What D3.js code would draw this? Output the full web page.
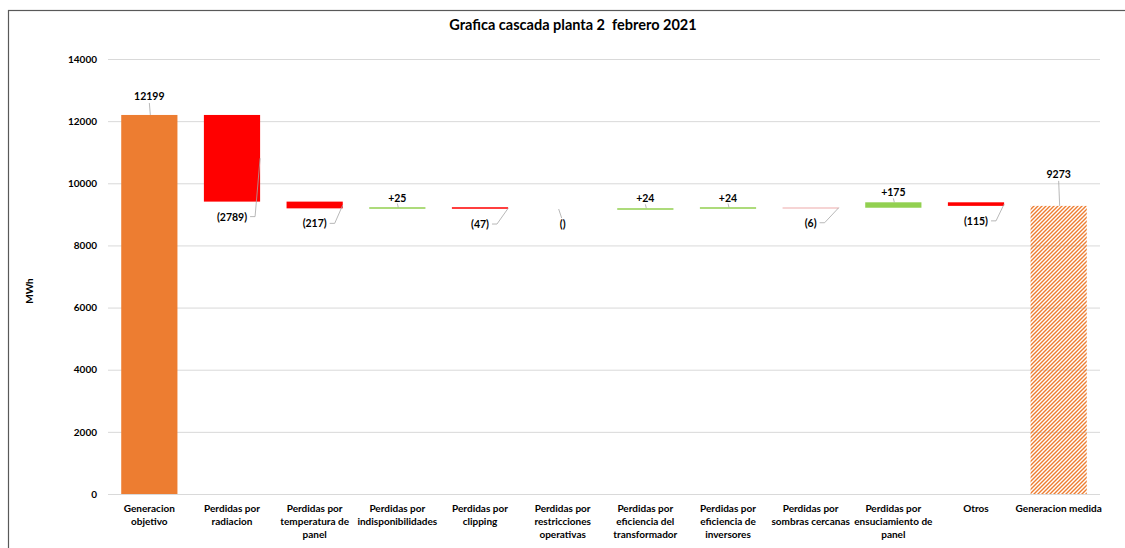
<!DOCTYPE html>
<html>
<head>
<meta charset="utf-8">
<script src="https://cdn.jsdelivr.net/npm/d3@7"></script>
<style>
  html, body { margin: 0; padding: 0; background: #fff; }
  svg { display: block; font-family: Lato, "Open Sans", sans-serif; }
  svg text { white-space: pre; }
</style>
</head>
<body>
<svg id="chart" width="1125" height="548"></svg>
<script>
// ---- data ----
const categories = [
  "Generacion\nobjetivo",
  "Perdidas por\nradiacion",
  "Perdidas por\ntemperatura de\npanel",
  "Perdidas por\nindisponibilidades",
  "Perdidas por\nclipping",
  "Perdidas por\nrestricciones\noperativas",
  "Perdidas por\neficiencia del\ntransformador",
  "Perdidas por\neficiencia de\ninversores",
  "Perdidas por\nsombras cercanas",
  "Perdidas por\nensuciamiento de\npanel",
  "Otros",
  "Generacion medida"
];
const values = [12199, -2789, -217, 25, -47, 0, 24, 24, -6, 175, -115, 9273];
const kinds = ["total", "delta", "delta", "delta", "delta", "delta", "delta", "delta", "delta", "delta", "delta", "measured"];
const yTicks = [0, 2000, 4000, 6000, 8000, 10000, 12000, 14000];
const title = "Grafica cascada planta 2  febrero 2021";
const yTitle = "MWh";

// ---- layout ----
const svg = d3.select("#chart");
const W = 1125, H = 548;
const plot = { left: 108, right: 1100, top: 59, bottom: 494 };

const x = d3.scaleBand().domain(d3.range(categories.length)).range([plot.left, plot.right]).paddingInner(0.32).paddingOuter(0.16);
const y = d3.scaleLinear().domain([0, 14000]).range([plot.bottom, plot.top]);

let running = 0;
const segs = values.map((v, i) => {
  let y0, y1;
  if (kinds[i] === "delta") { y0 = running; y1 = running + v; running = y1; }
  else { y0 = 0; y1 = v; running = v; }
  return { i, v, kind: kinds[i], lo: Math.min(y0, y1), hi: Math.max(y0, y1) };
});

const defs = svg.append("defs");
const pat = defs.append("pattern").attr("id", "hatch").attr("patternUnits", "userSpaceOnUse")
  .attr("width", 4).attr("height", 4);
pat.append("path").attr("d", "M-1,1 l2,-2 M0,4 l4,-4 M3,5 l2,-2")
  .attr("stroke", "#ED7D31").attr("stroke-width", 1.4);

// border
svg.append("rect").attr("x", 8.5).attr("y", 10.5).attr("width", W).attr("height", H)
  .attr("fill", "none").attr("stroke", "#595959").attr("stroke-width", 1.2);

// title
svg.append("text").attr("x", 573).attr("y", 30).attr("text-anchor", "middle")
  .attr("font-size", 14.5).attr("font-weight", "bold").attr("fill", "#000").text(title);

// grid + y axis
const yAxis = d3.axisLeft(y).tickValues(yTicks).tickSize(-(plot.right - plot.left)).tickPadding(11).tickFormat(d3.format("d"));
const gy = svg.append("g").attr("transform", `translate(${plot.left},0)`).call(yAxis);
gy.select(".domain").remove();
gy.selectAll(".tick line").attr("stroke", "#D9D9D9").attr("stroke-width", 1);
gy.selectAll(".tick text").attr("font-size", 10).attr("font-weight", "bold").attr("fill", "#000")
  .attr("font-family", "Lato, sans-serif");

// y title
svg.append("text").attr("transform", "translate(33,291) rotate(-90)").attr("text-anchor", "middle")
  .attr("font-size", 10).attr("font-weight", "bold").text(yTitle);

// bars
const colorOf = d => {
  if (d.kind === "total") return "#ED7D31";
  if (d.kind === "measured") return "url(#hatch)";
  const h = y(d.lo) - y(d.hi);
  if (d.v < 0 && h < 0.5) return "#F4C6C6";
  return d.v >= 0 ? "#92D050" : "#FF0000";
};
svg.append("g").selectAll("rect").data(segs.filter(d => d.v !== 0)).join("rect")
  .attr("x", d => x(d.i))
  .attr("width", x.bandwidth())
  .attr("y", d => {
    const h = y(d.lo) - y(d.hi);
    return h < 1.5 ? Math.round((y(d.lo) + y(d.hi)) / 2) - 0.75 : y(d.hi);
  })
  .attr("height", d => Math.max(1.5, y(d.lo) - y(d.hi)))
  .attr("fill", colorOf);

// value labels + leader lines
const fmt = d => d.kind !== "delta" ? String(d.v) : (d.v > 0 ? "+" + d.v : (d.v < 0 ? "(" + (-d.v) + ")" : "()"));
const lab = svg.append("g").attr("font-size", 10.5).attr("font-weight", "bold").attr("fill", "#000");
const leader = svg.append("g").attr("fill", "none").attr("stroke", "#A6A6A6").attr("stroke-width", 0.8);

segs.forEach(d => {
  const cx = x(d.i) + x.bandwidth() / 2;
  const right = x(d.i) + x.bandwidth();
  const top = y(d.hi), bot = y(d.lo);
  const text = fmt(d);
  if (d.kind !== "delta") {
    const gap = d.kind === "total" ? 19 : 32;
    const ty = top - gap;
    lab.append("text").attr("x", cx).attr("y", ty + 4).attr("text-anchor", "middle").text(text);
    leader.append("path").attr("d", `M${cx},${ty + 7}L${cx + 1},${top}`);
  } else if (d.v > 0) {
    const ty = top - 10;
    lab.append("text").attr("x", cx).attr("y", ty + 4).attr("text-anchor", "middle").text(text);
    leader.append("path").attr("d", `M${cx},${ty + 6}L${cx + 1},${top}`);
  } else if (d.v < 0) {
    const ty = bot + 15;
    const t = lab.append("text").attr("x", cx).attr("y", ty + 4).attr("text-anchor", "middle").text(text);
    const tw = t.node().getComputedTextLength();
    const lx = cx + tw / 2 + 3;
    const attachY = (top + bot) / 2;
    leader.append("path").attr("d", `M${lx},${ty}L${lx + 5},${ty}L${right},${attachY}`);
  } else {
    const ty = bot + 15;
    lab.append("text").attr("x", cx).attr("y", ty + 4).attr("text-anchor", "middle").text(text);
    leader.append("path").attr("d", `M${cx - 1},${ty - 6}L${cx - 4},${ty - 15}`);
  }
});

// category labels
const cg = svg.append("g").attr("font-size", 10).attr("font-weight", "bold").attr("fill", "#000");
categories.forEach((c, i) => {
  const cx = x(i) + x.bandwidth() / 2;
  const t = cg.append("text").attr("text-anchor", "middle");
  c.split("\n").forEach((line, k) => {
    t.append("tspan").attr("x", cx).attr("y", 512 + k * 13).text(line);
  });
});
</script>
</body>
</html>
